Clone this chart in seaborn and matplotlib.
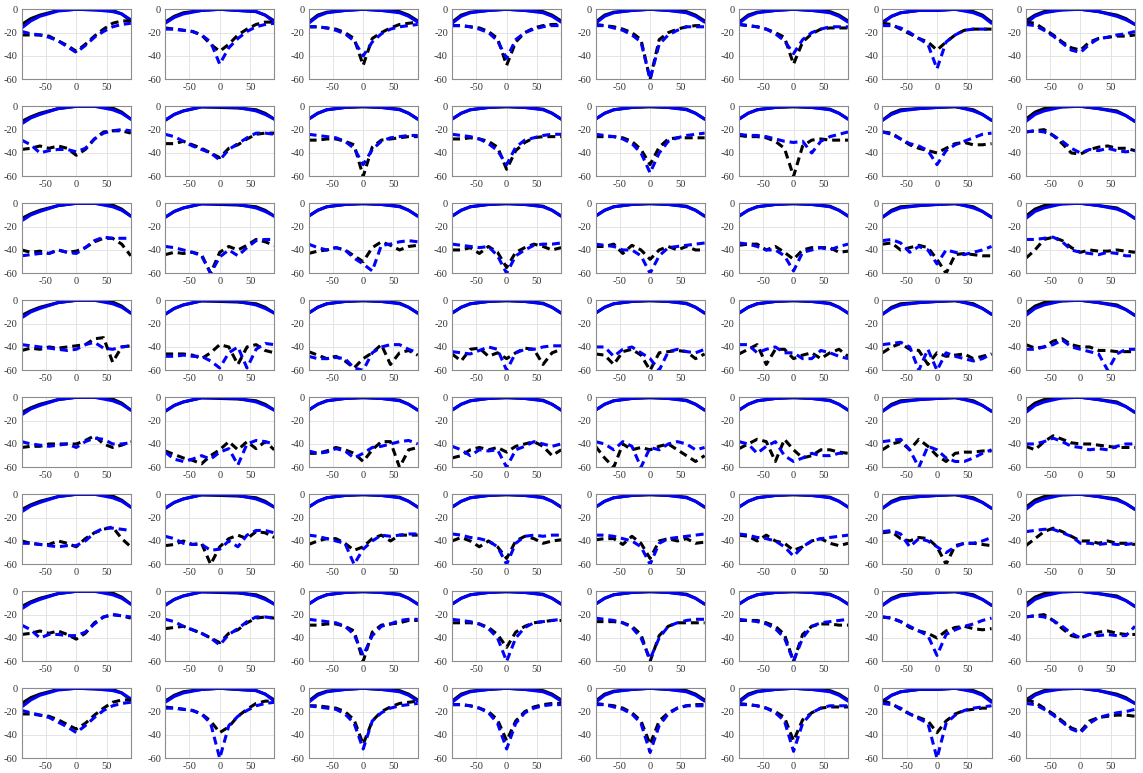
import matplotlib
matplotlib.use("Agg")
import matplotlib.pyplot as plt
import seaborn as sns

# ---------------- data ----------------
angles_co = [-90, -75, -60, -30, 0, 30, 60, 75, 90]
angles_x = [-90, -75, -60, -45, -30, -15, 0, 15, 30, 45, 60, 75, 90]
xticks = [-50, 0, 50]
yticks = [-60, -40, -20, 0]

_edge_k = [[-13, -8, -5, -1, 0, -0.5, -1, -4, -10],
           [-11, -6, -3, -1, 0, -1, -2, -5, -10],
           [-11, -5, -2.5, -1, 0, -1, -2, -5, -10],
           [-11, -5, -2.5, -1, 0, -1, -2, -5, -10],
           [-11, -5, -2.5, -1, 0, -1, -2, -5, -10],
           [-11, -5, -2.5, -1, 0, -1, -2, -5, -10],
           [-11, -6, -3, -1, -1, 0, -2, -5, -11],
           [-10, -5, -2, -0.5, 0, -2, -5, -8, -13]]
_mid_k = [[-13, -9, -6, -2, 0, 0, -1.5, -5, -11],
          [-12, -7, -4, -0.5, -1, -1.5, -3, -6, -11],
          [-11, -6, -3, -1, -0.5, -1, -2.5, -6, -11],
          [-11, -6, -3, -1, -0.5, -1, -2.5, -6, -11],
          [-11, -6, -3, -1, -0.5, -1, -2.5, -6, -11],
          [-11, -6, -3, -1, -0.5, -1, -2.5, -6, -11],
          [-12, -6, -3, -2, -1, -0.5, -3, -7, -12],
          [-11, -5, -2, -0.5, 0, -2, -4, -8, -13]]
copol_black = [_edge_k, _mid_k, _mid_k, _mid_k, _mid_k, _mid_k, _mid_k, _edge_k]

_edge_b = [[-16, -10, -6, -1.5, 0, -0.5, -2, -4, -9],
           [-12, -7, -4, -1, 0, -1, -2, -5, -11],
           [-12, -6, -3, -1, 0, -1, -3, -6, -11],
           [-12, -6, -3, -1, 0, -1, -3, -6, -11],
           [-12, -6, -3, -1, 0, -1, -3, -6, -11],
           [-12, -6, -3, -1, 0, -1, -3, -6, -11],
           [-12, -6, -3, -1, -1, 0, -3, -6, -12],
           [-12, -6, -3, -0.5, 0, -2, -6, -9, -13]]
_mid_b = [[-15, -10, -7, -2, 0, 0, -3, -6, -11],
          [-12, -7, -4, -0.5, -0.5, -1, -4, -7, -11],
          [-11, -6, -3, -1, 0, -1, -3, -6, -11],
          [-11, -6, -3, -1, 0, -1, -3, -6, -11],
          [-11, -6, -3, -1, 0, -1, -3, -6, -11],
          [-11, -6, -3, -1, 0, -1, -3, -6, -11],
          [-12, -7, -4, -2, -1, 0, -4, -7, -12],
          [-13, -7, -4, -0.5, 0, -2, -5, -8, -13]]
copol_blue = [_edge_b, _mid_b, _mid_b, _mid_b, _mid_b, _mid_b, _mid_b, _edge_b]

xpol_black = [
    [[-22, -22, -22, -23, -27, -31, -36, -30, -23, -17, -12, -10, -10],
     [-16, -17, -18, -19, -22, -30, -36, -30, -22, -17, -13, -11, -11],
     [-15, -15, -16, -17, -20, -25, -48, -25, -20, -16, -13, -12, -11],
     [-14, -14, -15, -16, -19, -25, -48, -28, -20, -16, -14, -13, -13],
     [-13, -14, -15, -17, -20, -26, -60, -26, -20, -17, -15, -14, -14],
     [-13, -14, -15, -17, -20, -24, -47, -28, -21, -17, -16, -16, -16],
     [-12, -13, -17, -21, -25, -28, -35, -28, -22, -18, -17, -17, -17],
     [-11, -12, -17, -22, -28, -33, -35, -28, -25, -24, -23, -23, -22]],
    [[-37, -36, -34, -36, -34, -36, -42, -37, -28, -22, -21, -21, -23],
     [-32, -32, -30, -33, -36, -40, -44, -36, -33, -28, -24, -23, -23],
     [-29, -29, -28, -28, -30, -33, -60, -35, -29, -28, -27, -26, -26],
     [-28, -28, -27, -28, -30, -35, -54, -38, -31, -27, -26, -26, -26],
     [-26, -26, -26, -27, -30, -37, -50, -35, -28, -27, -27, -27, -27],
     [-25, -26, -26, -27, -30, -36, -60, -34, -29, -28, -29, -29, -29],
     [-22, -23, -28, -33, -36, -38, -40, -36, -32, -31, -33, -33, -32],
     [-22, -21, -20, -25, -32, -40, -41, -37, -35, -34, -36, -36, -38]],
    [[-40, -42, -41, -43, -40, -42, -41, -38, -33, -30, -30, -35, -45],
     [-44, -42, -43, -42, -44, -60, -42, -37, -40, -36, -31, -33, -36],
     [-43, -41, -40, -38, -40, -45, -50, -38, -33, -36, -40, -37, -36],
     [-40, -40, -38, -43, -37, -42, -55, -42, -38, -35, -37, -40, -38],
     [-37, -37, -35, -43, -36, -40, -48, -40, -37, -40, -37, -40, -40],
     [-36, -35, -35, -40, -37, -42, -48, -40, -38, -38, -38, -42, -41],
     [-35, -34, -40, -38, -36, -38, -48, -60, -44, -43, -44, -45, -45],
     [-47, -40, -31, -29, -32, -38, -42, -40, -41, -41, -40, -41, -42]],
    [[-43, -41, -42, -40, -41, -40, -39, -38, -33, -32, -53, -40, -39],
     [-46, -46, -46, -47, -50, -45, -38, -40, -55, -40, -38, -43, -45],
     [-44, -47, -50, -48, -52, -58, -50, -45, -38, -55, -45, -43, -47],
     [-46, -52, -42, -41, -48, -45, -50, -45, -41, -42, -55, -45, -42],
     [-46, -47, -55, -44, -42, -47, -60, -45, -44, -43, -44, -50, -46],
     [-46, -42, -38, -55, -42, -42, -50, -47, -45, -50, -45, -42, -48],
     [-45, -40, -37, -42, -43, -55, -45, -48, -47, -46, -50, -48, -46],
     [-38, -41, -40, -35, -33, -38, -40, -40, -43, -43, -44, -44, -44]],
    [[-43, -42, -42, -40, -40, -40, -40, -37, -33, -40, -43, -41, -38],
     [-46, -49, -52, -54, -57, -50, -45, -38, -45, -38, -44, -38, -45],
     [-48, -48, -46, -43, -45, -48, -55, -45, -38, -38, -60, -45, -43],
     [-52, -50, -45, -43, -45, -43, -47, -42, -40, -38, -42, -50, -45],
     [-42, -52, -60, -40, -45, -43, -45, -42, -40, -45, -50, -55, -50],
     [-44, -40, -36, -38, -55, -36, -45, -52, -50, -45, -45, -47, -48],
     [-45, -40, -38, -45, -36, -42, -50, -55, -48, -47, -47, -46, -46],
     [-42, -45, -38, -33, -36, -39, -40, -40, -41, -42, -43, -43, -43]],
    [[-40, -42, -43, -43, -40, -42, -45, -38, -33, -30, -28, -38, -45],
     [-44, -43, -40, -43, -42, -60, -45, -38, -35, -38, -32, -33, -37],
     [-43, -40, -38, -38, -42, -48, -45, -38, -35, -40, -35, -35, -35],
     [-40, -37, -40, -45, -40, -45, -55, -40, -36, -38, -42, -40, -39],
     [-39, -38, -38, -43, -36, -42, -55, -40, -38, -40, -38, -42, -41],
     [-35, -36, -40, -35, -40, -42, -48, -45, -40, -38, -42, -44, -42],
     [-33, -32, -38, -40, -37, -38, -45, -60, -44, -42, -42, -43, -44],
     [-44, -38, -32, -29, -32, -36, -40, -40, -42, -40, -42, -42, -43]],
    [[-37, -36, -34, -36, -34, -37, -41, -36, -27, -22, -20, -21, -23],
     [-32, -31, -30, -33, -36, -40, -44, -36, -33, -27, -23, -22, -23],
     [-29, -29, -28, -28, -30, -34, -60, -35, -29, -28, -27, -25, -25],
     [-27, -27, -27, -28, -31, -37, -48, -35, -30, -27, -26, -25, -25],
     [-26, -26, -26, -27, -30, -37, -60, -38, -30, -27, -27, -27, -27],
     [-25, -25, -25, -27, -30, -37, -60, -37, -30, -28, -28, -29, -29],
     [-22, -23, -26, -31, -34, -36, -40, -34, -31, -30, -32, -33, -32],
     [-22, -21, -20, -25, -32, -38, -40, -37, -35, -34, -36, -37, -37]],
    [[-22, -22, -23, -24, -27, -31, -35, -30, -23, -17, -12, -10, -10],
     [-16, -17, -18, -19, -22, -28, -38, -33, -24, -18, -13, -11, -11],
     [-15, -15, -16, -17, -20, -27, -48, -28, -20, -16, -13, -12, -11],
     [-14, -14, -15, -17, -20, -27, -45, -28, -20, -16, -14, -13, -13],
     [-13, -14, -15, -17, -21, -28, -48, -28, -21, -17, -15, -14, -14],
     [-13, -14, -15, -17, -20, -25, -45, -27, -21, -17, -16, -16, -16],
     [-11, -13, -18, -22, -25, -28, -38, -28, -22, -19, -18, -17, -17],
     [-10, -12, -17, -22, -28, -34, -37, -28, -25, -24, -23, -23, -24]],
]

xpol_blue = [
    [[-19, -21, -22, -24, -27, -32, -37, -31, -24, -19, -15, -13, -12],
     [-17, -17, -18, -19, -22, -28, -47, -33, -25, -19, -15, -13, -12],
     [-15, -15, -16, -18, -21, -27, -40, -28, -21, -17, -15, -14, -13],
     [-14, -14, -15, -17, -20, -27, -42, -26, -20, -17, -15, -14, -14],
     [-14, -14, -16, -18, -22, -28, -60, -30, -22, -18, -15, -15, -15],
     [-13, -14, -15, -17, -21, -27, -38, -26, -20, -17, -15, -15, -15],
     [-14, -14, -16, -20, -25, -30, -51, -28, -22, -18, -17, -17, -17],
     [-13, -14, -18, -23, -29, -35, -37, -30, -25, -24, -22, -21, -19]],
    [[-29, -33, -40, -38, -37, -37, -39, -36, -28, -23, -21, -20, -21],
     [-24, -26, -30, -34, -37, -40, -46, -37, -32, -27, -23, -23, -24],
     [-24, -25, -26, -27, -30, -36, -50, -37, -30, -27, -26, -25, -25],
     [-24, -25, -26, -28, -32, -38, -50, -35, -29, -27, -25, -24, -24],
     [-24, -25, -26, -28, -32, -40, -57, -40, -30, -27, -25, -24, -23],
     [-24, -25, -25, -26, -28, -30, -31, -30, -40, -30, -26, -24, -22],
     [-22, -24, -28, -32, -34, -38, -50, -38, -33, -30, -27, -24, -23],
     [-22, -21, -22, -25, -30, -36, -40, -37, -38, -36, -38, -39, -38]],
    [[-45, -44, -43, -43, -40, -42, -43, -38, -32, -29, -30, -30, -30],
     [-37, -38, -40, -42, -45, -60, -46, -40, -45, -38, -32, -31, -31],
     [-35, -38, -40, -38, -40, -47, -52, -58, -36, -35, -33, -32, -33],
     [-35, -36, -37, -38, -37, -45, -60, -45, -40, -36, -35, -35, -34],
     [-35, -36, -37, -40, -40, -45, -60, -45, -38, -37, -36, -35, -34],
     [-34, -35, -37, -40, -40, -45, -58, -42, -40, -38, -40, -37, -35],
     [-32, -31, -34, -42, -37, -40, -52, -40, -42, -44, -42, -40, -37],
     [-31, -31, -30, -29, -33, -40, -42, -43, -44, -42, -43, -45, -45]],
    [[-38, -39, -40, -41, -42, -43, -42, -38, -36, -41, -42, -40, -39],
     [-48, -48, -47, -48, -48, -52, -58, -45, -40, -58, -42, -37, -38],
     [-48, -50, -50, -49, -50, -58, -60, -45, -40, -38, -38, -42, -45],
     [-44, -45, -46, -43, -40, -42, -60, -45, -42, -42, -40, -39, -39],
     [-40, -40, -48, -42, -40, -45, -50, -60, -44, -42, -44, -45, -42],
     [-38, -38, -45, -42, -40, -45, -45, -50, -50, -43, -45, -48, -50],
     [-38, -37, -36, -40, -60, -42, -60, -45, -48, -50, -52, -50, -46],
     [-42, -42, -40, -38, -34, -40, -42, -44, -46, -60, -46, -42, -42]],
    [[-38, -40, -41, -42, -41, -40, -43, -38, -35, -36, -40, -40, -39],
     [-47, -53, -55, -53, -50, -53, -47, -44, -58, -40, -37, -38, -40],
     [-46, -48, -47, -44, -46, -52, -48, -43, -42, -40, -38, -37, -40],
     [-42, -45, -50, -45, -46, -45, -60, -45, -42, -38, -40, -42, -40],
     [-38, -40, -45, -38, -42, -60, -43, -45, -40, -38, -40, -45, -43],
     [-38, -40, -48, -42, -38, -50, -55, -52, -48, -50, -50, -48, -48],
     [-38, -37, -36, -45, -60, -42, -45, -52, -55, -55, -52, -48, -45],
     [-40, -40, -38, -35, -38, -42, -43, -45, -44, -45, -42, -40, -40]],
    [[-42, -42, -43, -44, -45, -44, -44, -40, -33, -29, -29, -30, -31],
     [-36, -38, -42, -43, -43, -48, -47, -40, -45, -35, -31, -31, -33],
     [-35, -36, -38, -40, -42, -60, -47, -40, -35, -36, -35, -34, -34],
     [-34, -35, -37, -38, -40, -45, -60, -42, -36, -35, -36, -35, -35],
     [-35, -35, -36, -38, -40, -45, -60, -42, -38, -37, -36, -35, -34],
     [-34, -35, -37, -38, -40, -45, -53, -45, -40, -38, -37, -36, -35],
     [-32, -31, -34, -45, -38, -40, -45, -50, -45, -42, -42, -40, -37],
     [-32, -31, -30, -30, -33, -36, -42, -42, -43, -42, -43, -43, -42]],
    [[-29, -33, -40, -37, -37, -38, -38, -35, -28, -22, -20, -21, -22],
     [-24, -26, -30, -33, -36, -40, -46, -37, -32, -26, -22, -22, -23],
     [-24, -25, -26, -27, -30, -37, -55, -38, -30, -28, -25, -24, -24],
     [-24, -25, -26, -28, -32, -40, -60, -40, -31, -27, -26, -25, -24],
     [-23, -24, -25, -27, -31, -40, -58, -40, -30, -27, -25, -24, -24],
     [-24, -25, -26, -28, -32, -40, -60, -40, -30, -27, -26, -25, -24],
     [-22, -23, -26, -30, -34, -38, -55, -37, -33, -30, -28, -25, -23],
     [-22, -21, -22, -25, -30, -36, -40, -37, -38, -37, -38, -38, -30]],
    [[-19, -21, -23, -25, -29, -33, -38, -32, -25, -19, -15, -13, -12],
     [-17, -17, -18, -19, -22, -30, -60, -32, -24, -19, -15, -13, -12],
     [-15, -16, -17, -18, -22, -30, -52, -28, -21, -17, -15, -14, -13],
     [-14, -14, -15, -17, -21, -30, -52, -30, -21, -17, -15, -14, -14],
     [-14, -14, -16, -18, -22, -30, -55, -32, -22, -17, -15, -15, -15],
     [-14, -14, -15, -17, -21, -28, -54, -30, -21, -17, -15, -15, -15],
     [-13, -14, -17, -22, -26, -30, -60, -30, -23, -19, -17, -16, -15],
     [-13, -14, -18, -23, -29, -35, -38, -30, -25, -23, -21, -20, -18]],
]

# ---------------- style ----------------
sns.set_style("white")
plt.rcParams["font.family"] = ["Liberation Serif", "DejaVu Serif"]
plt.rcParams["axes.unicode_minus"] = False

fig, axes = plt.subplots(8, 8, figsize=(11.43, 7.73), dpi=100)
fig.subplots_adjust(left=0.019, right=0.993, top=0.988, bottom=0.019,
                    wspace=0.315, hspace=0.385)

LW = 2.2
DASH = (0, (2.6, 1.6))
BLUE = "#0000ff"

for r in range(8):
    for c in range(8):
        ax = axes[r, c]
        sns.lineplot(x=angles_co, y=copol_black[r][c], ax=ax, color="black",
                     linewidth=LW, estimator=None)
        sns.lineplot(x=angles_co, y=copol_blue[r][c], ax=ax, color=BLUE,
                     linewidth=LW, estimator=None)
        sns.lineplot(x=angles_x, y=xpol_black[r][c], ax=ax, color="black",
                     linewidth=LW, linestyle=DASH, estimator=None)
        sns.lineplot(x=angles_x, y=xpol_blue[r][c], ax=ax, color=BLUE,
                     linewidth=LW, linestyle=DASH, estimator=None)
        ax.set_xlim(-90, 90)
        ax.set_ylim(-60, 0)
        ax.set_xticks(xticks)
        ax.set_yticks(yticks)
        ax.set_xlabel("")
        ax.set_ylabel("")
        ax.grid(True, color="#e4e4e4", linewidth=0.7)
        ax.set_axisbelow(True)
        for s in ax.spines.values():
            s.set_visible(True)
            s.set_color("#8c8c8c")
            s.set_linewidth(0.8)
        ax.tick_params(length=0, labelsize=7.5, colors="#333333", pad=3)

fig.savefig("out.png", dpi=100)
